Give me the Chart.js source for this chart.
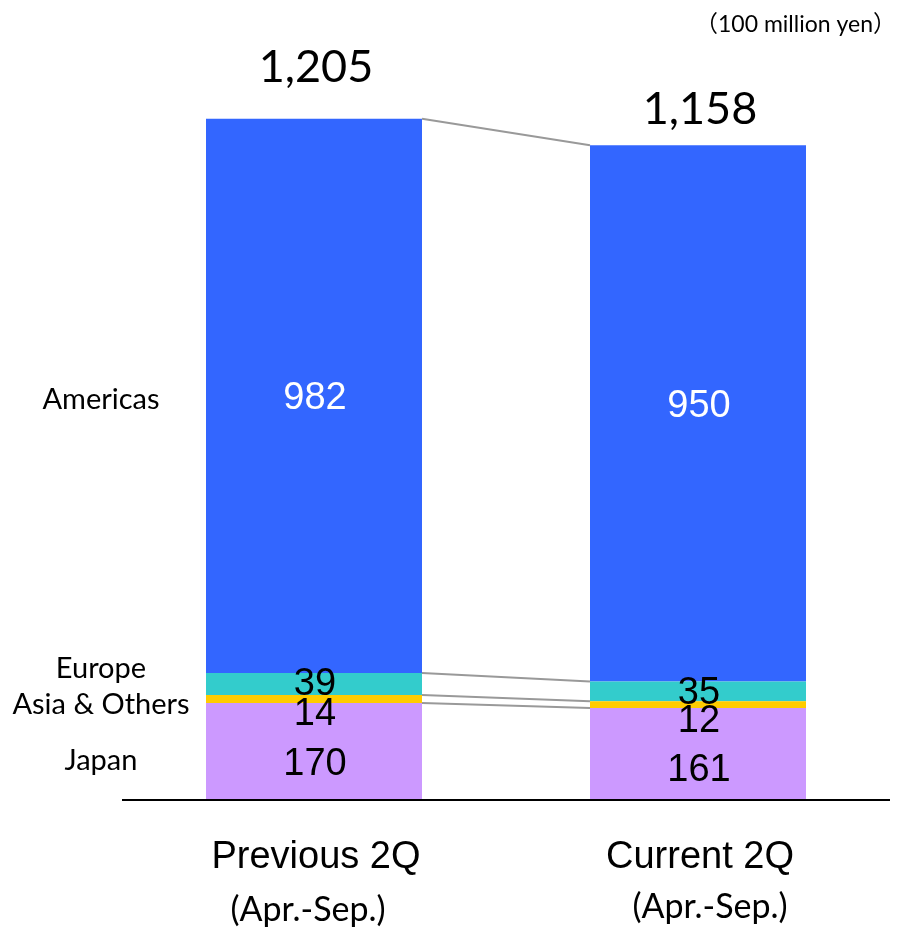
<!DOCTYPE html>
<html>
<head>
<meta charset="utf-8">
<title>Sales by Region</title>
<script src="https://cdn.jsdelivr.net/npm/chart.js@4.4.1/dist/chart.umd.min.js"></script>
<style>
  html, body { margin: 0; padding: 0; background: #fff; }
  #wrap { width: 899px; height: 932px; }
</style>
</head>
<body>
<div id="wrap"><canvas id="salesChart" width="899" height="932"></canvas></div>
<script>
// sales by region, 100 million yen
const categories = ["Previous 2Q", "Current 2Q"];
const periods = ["(Apr.-Sep.)", "(Apr.-Sep.)"];
const regions = ["Japan", "Asia & Others", "Europe", "Americas"];
const japan = [170, 161];
const asiaOthers = [14, 12];
const europe = [39, 35];
const americas = [982, 950];
const totals = [1205, 1158];
const unitLabel = "\uFF08100 million yen\uFF09";

const colors = ["#CC99FF", "#FFCC00", "#33CCCC", "#3366FF"];
const valueColors = ["#000", "#000", "#000", "#fff"];
// vertical nudges for the in-bar numbers so the thin segments don't collide
const valueShift = [[14, 17], [15, 17], [0, 2], [3, -7]];
const sideShift = [10, 6, -15, 4];
const totalLift = [51, 36];

const seriesList = [japan, asiaOthers, europe, americas];

const fmt = (n) => n.toLocaleString("en-US");

const overlay = {
  id: "overlay",
  afterDatasetsDraw(chart) {
    const { ctx, chartArea } = chart;
    const metas = seriesList.map((_, i) => chart.getDatasetMeta(i));

    ctx.save();

    // connector lines between the tops of each segment
    ctx.strokeStyle = "#999999";
    ctx.lineWidth = 2;
    metas.forEach((meta) => {
      const a = meta.data[0], b = meta.data[1];
      ctx.beginPath();
      ctx.moveTo(a.x + a.width / 2, a.y);
      ctx.lineTo(b.x - b.width / 2, b.y);
      ctx.stroke();
    });

    // values inside the bars
    ctx.textAlign = "center";
    ctx.textBaseline = "middle";
    ctx.font = "38px 'Liberation Sans', Arial, sans-serif";
    metas.forEach((meta, d) => {
      meta.data.forEach((bar, i) => {
        const y = (bar.y + bar.base) / 2 + valueShift[d][i];
        ctx.fillStyle = valueColors[d];
        ctx.fillText(String(seriesList[d][i]), bar.x + 1, y);
      });
    });

    // totals above the bars
    ctx.fillStyle = "#000";
    ctx.font = "45px Lato, 'Open Sans', sans-serif";
    const top = metas[metas.length - 1];
    top.data.forEach((bar, i) => {
      ctx.fillText(fmt(totals[i]), bar.x + 2, bar.y - totalLift[i]);
    });

    // region names on the left, beside the first bar
    ctx.font = "29px Lato, 'Open Sans', sans-serif";
    metas.forEach((meta, d) => {
      const bar = meta.data[0];
      ctx.fillText(regions[d], 101, (bar.y + bar.base) / 2 + sideShift[d]);
    });

    // axis line
    ctx.strokeStyle = "#000";
    ctx.lineWidth = 2;
    ctx.beginPath();
    ctx.moveTo(chartArea.left, chartArea.bottom + 1);
    ctx.lineTo(chartArea.right, chartArea.bottom + 1);
    ctx.stroke();

    // category labels
    const xs = chart.scales.x;
    categories.forEach((c, i) => {
      const x = xs.getPixelForValue(i);
      ctx.font = "38px 'Liberation Sans', Arial, sans-serif";
      ctx.fillText(c, x + 2, chartArea.bottom + 59);
      ctx.font = "34px Lato, 'Open Sans', sans-serif";
      ctx.fillText(periods[i], x - 6 + i * 18, chartArea.bottom + 111 - i * 3);
    });

    // unit
    ctx.textAlign = "right";
    ctx.font = "23px Lato, 'Noto Sans CJK JP', sans-serif";
    ctx.fillText(unitLabel, 896, 25);

    ctx.restore();
  }
};

new Chart(document.getElementById("salesChart"), {
  type: "bar",
  data: {
    labels: categories,
    datasets: seriesList.map((vals, i) => ({
      label: regions[i],
      data: vals,
      backgroundColor: colors[i],
      borderWidth: 0,
      barPercentage: 0.5625,
      categoryPercentage: 1
    }))
  },
  options: {
    responsive: false,
    animation: false,
    layout: { padding: { left: 122, right: 9, top: 65, bottom: 133 } },
    plugins: {
      legend: { display: false },
      tooltip: { enabled: false }
    },
    scales: {
      x: { stacked: true, display: false },
      y: { stacked: true, display: false, min: 0, max: 1300 }
    }
  },
  plugins: [overlay]
});
</script>
</body>
</html>
